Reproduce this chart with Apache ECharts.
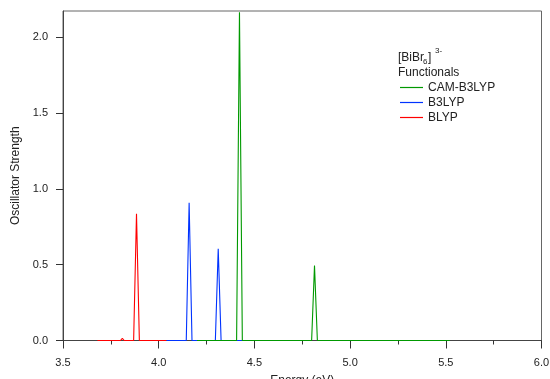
<!DOCTYPE html>
<html><head><meta charset="utf-8">
<script src="https://cdn.jsdelivr.net/npm/echarts@6/dist/echarts.min.js"></script>
<style>html,body{margin:0;padding:0;background:#fff}#c{width:550px;height:379px}</style>
</head><body><div id="c"></div>
<script>
// Spectra: [energy (eV), oscillator strength]
const camB3lyp = [[4.20,0],[4.407,0],[4.422,2.165],[4.437,0],[4.799,0],[4.814,0.495],[4.829,0],[5.52,0]];
const b3lyp = [[4.04,0],[4.144,0],[4.159,0.909],[4.174,0],[4.296,0],[4.311,0.605],[4.326,0],[4.45,0]];
const blyp = [[3.68,0],[3.800,0],[3.805,0.008],[3.810,0.014],[3.815,0.008],[3.820,0],[3.869,0],[3.884,0.836],[3.899,0],[4.04,0]];
const seriesNames = ['CAM-B3LYP','B3LYP','BLYP'];
const seriesColors = {'CAM-B3LYP':'#009900','B3LYP':'#0033ff','BLYP':'#ff0000'};
const yTicks = [0,0.5,1.0,1.5,2.0];
const xTicks = [3.5,4.0,4.5,5.0,5.5,6.0];

const font = 'Liberation Sans, Arial, sans-serif';
const chart = echarts.init(document.getElementById('c'));
chart.setOption({
  animation:false,
  grid:{left:63,right:8.5,top:11,bottom:38.5,show:true,borderColor:'#666',borderWidth:1,outerBoundsMode:'none',containLabel:false},
  xAxis:{type:'value',min:3.5,max:6.0,interval:0.5,
    name:'Energy (eV)',nameLocation:'middle',nameGap:34.5,
    nameTextStyle:{fontFamily:font,fontSize:12,color:'#222'},
    axisLine:{onZero:false,lineStyle:{color:'#444',width:1}},
    axisTick:{show:true,length:8,lineStyle:{color:'#333'}},
    minorTick:{show:true,splitNumber:2,length:4,lineStyle:{color:'#333'}},
    splitLine:{show:false},
    axisLabel:{fontFamily:font,fontSize:11,color:'#222',margin:16.5,customValues:xTicks,formatter:v=>v.toFixed(1)}},
  yAxis:{type:'value',min:0,max:2.174,
    name:'Oscillator Strength',nameLocation:'middle',nameGap:39,
    nameTextStyle:{fontFamily:font,fontSize:12,color:'#222'},
    axisLine:{show:true,lineStyle:{color:'#444',width:1}},
    axisTick:{show:true,length:7,lineStyle:{color:'#333'},customValues:yTicks},
    splitLine:{show:false},
    axisLabel:{fontFamily:font,fontSize:11,color:'#222',margin:15,customValues:yTicks,formatter:v=>v.toFixed(1)}},
  legend:{orient:'vertical',left:395,top:76,itemWidth:23,itemHeight:1.2,itemGap:2,icon:'rect',
    data:seriesNames.map(n=>({name:n,itemStyle:{color:seriesColors[n]}})),
    textStyle:{fontFamily:font,fontSize:12,color:'#222',lineHeight:13}},
  graphic:[
    {type:'text',x:398,y:57.5,style:{text:'[BiBr',fontFamily:font,fontSize:12,fill:'#222',verticalAlign:'middle'}},
    {type:'text',x:423,y:61.5,style:{text:'6',fontFamily:font,fontSize:8,fill:'#222',verticalAlign:'middle'}},
    {type:'text',x:428,y:57.5,style:{text:']',fontFamily:font,fontSize:12,fill:'#222',verticalAlign:'middle'}},
    {type:'text',x:435,y:50.5,style:{text:'3-',fontFamily:font,fontSize:8,fill:'#222',verticalAlign:'middle'}},
    {type:'text',x:398,y:72.5,style:{text:'Functionals',fontFamily:font,fontSize:12,fill:'#222',verticalAlign:'middle'}}
  ],
  series:[
    {name:'B3LYP',type:'line',data:b3lyp,symbol:'none',clip:false,z:5,lineStyle:{color:seriesColors['B3LYP'],width:1.1},itemStyle:{color:seriesColors['B3LYP']}},
    {name:'BLYP',type:'line',data:blyp,symbol:'none',clip:false,z:5,lineStyle:{color:seriesColors['BLYP'],width:1.1},itemStyle:{color:seriesColors['BLYP']}},
    {name:'CAM-B3LYP',type:'line',data:camB3lyp,symbol:'none',clip:false,z:6,lineStyle:{color:seriesColors['CAM-B3LYP'],width:1.1},itemStyle:{color:seriesColors['CAM-B3LYP']}}
  ]
});
</script></body></html>
